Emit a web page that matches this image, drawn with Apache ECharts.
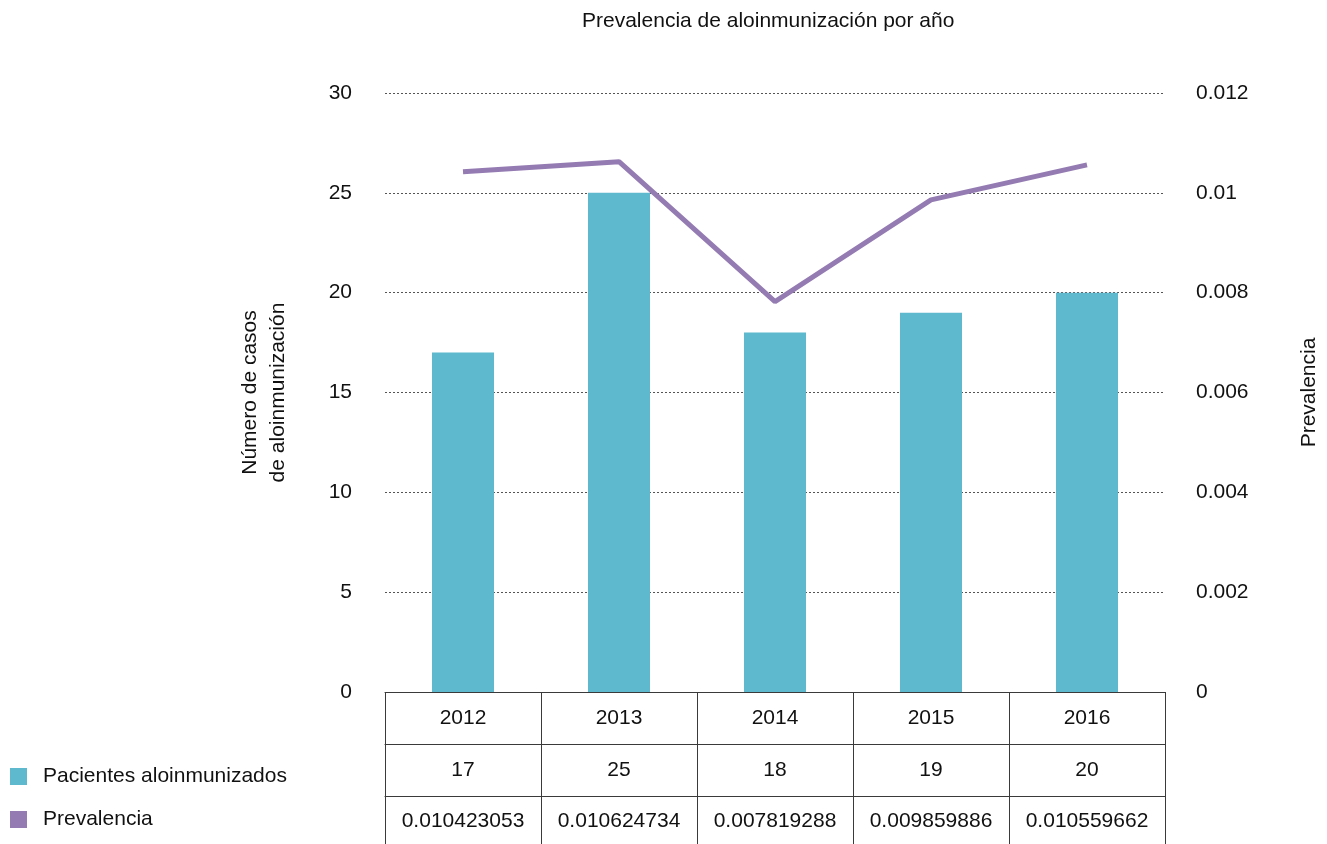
<!DOCTYPE html>
<html>
<head>
<meta charset="utf-8">
<script src="https://cdn.jsdelivr.net/npm/echarts@6/dist/echarts.min.js"></script>
<style>
  html, body { margin: 0; padding: 0; background: #fff; }
  #chart { width: 1327px; height: 844px; }
</style>
</head>
<body>
<div id="chart"></div>
<script>
// Years shown on the category axis and in the data table
const years = ['2012', '2013', '2014', '2015', '2016'];
// Number of alloimmunized patients per year (bars, left axis)
const casos = [17, 25, 18, 19, 20];
// Alloimmunization prevalence per year (line, right axis)
const prevalencia = [0.010423053, 0.010624734, 0.007819288, 0.009859886, 0.010559662];
// Left and right axis scales
const casosTicks = { min: 0, max: 30, interval: 5 };
const prevTicks = { min: 0, max: 0.012, interval: 0.002 };

const FONT = 'Liberation Sans, Arial, sans-serif';
const FS = 21;
const TEXT = '#111';
const BORDER = '#3a3a3a';
const ROW = 52;

// One category x-axis per table row; its line and ticks draw the cell borders
function tableAxis(labels, offset, margin, tickLen) {
  return {
    type: 'category',
    position: 'bottom',
    offset: offset,
    data: labels,
    boundaryGap: true,
    axisLine: { show: true, onZero: false, lineStyle: { color: BORDER, width: 1 } },
    axisTick: { show: true, interval: 0, length: tickLen, lineStyle: { color: BORDER, width: 1 } },
    axisLabel: { interval: 0, margin: margin, color: TEXT, fontSize: FS, fontFamily: FONT, verticalAlign: 'top' },
    splitLine: { show: false }
  };
}

const chart = echarts.init(document.getElementById('chart'));
chart.setOption({
  animation: false,
  backgroundColor: '#fff',
  textStyle: { fontFamily: FONT, color: TEXT },
  title: {
    text: 'Prevalencia de aloinmunización por año',
    left: 577,
    top: 6,
    textStyle: { fontSize: FS, fontWeight: 'normal', color: TEXT, fontFamily: FONT }
  },
  legend: {
    orient: 'vertical',
    left: 10,
    top: 766,
    padding: 0,
    itemWidth: 17,
    itemHeight: 17,
    itemGap: 22,
    icon: 'rect',
    textStyle: { fontSize: FS, color: TEXT, fontFamily: FONT, padding: [0, 0, 0, 11] },
    data: ['Pacientes aloinmunizados', 'Prevalencia']
  },
  grid: { left: 385, right: 162, top: 93, bottom: 152, containLabel: false, outerBoundsMode: 'none' },
  xAxis: [
    tableAxis(years, 0, 16, ROW),
    tableAxis(casos.map(String), ROW, 16, ROW),
    tableAxis(prevalencia.map(String), ROW * 2, 15, ROW)
  ],
  yAxis: [
    {
      type: 'value',
      min: casosTicks.min, max: casosTicks.max, interval: casosTicks.interval,
      name: 'Número de casos\nde aloinmunización',
      nameLocation: 'middle',
      nameRotate: 90,
      nameGap: 93,
      nameTextStyle: { fontSize: FS, color: TEXT, fontFamily: FONT, lineHeight: 28 },
      axisLine: { show: false },
      axisTick: { show: false },
      axisLabel: { margin: 33, color: TEXT, fontSize: FS, fontFamily: FONT },
      splitLine: { show: true, lineStyle: { color: '#555', type: [2, 2], width: 1 } }
    },
    {
      type: 'value',
      position: 'right',
      min: prevTicks.min, max: prevTicks.max, interval: prevTicks.interval,
      name: 'Prevalencia',
      nameLocation: 'middle',
      nameRotate: 90,
      nameGap: 134,
      nameTextStyle: { fontSize: FS, color: TEXT, fontFamily: FONT },
      axisLine: { show: false },
      axisTick: { show: false },
      axisLabel: { margin: 31, color: TEXT, fontSize: FS, fontFamily: FONT },
      splitLine: { show: false }
    }
  ],
  series: [
    {
      name: 'Pacientes aloinmunizados',
      type: 'bar',
      xAxisIndex: 0,
      yAxisIndex: 0,
      barWidth: 62,
      itemStyle: { color: '#5fb9ce' },
      data: casos
    },
    {
      name: 'Prevalencia',
      type: 'line',
      xAxisIndex: 0,
      yAxisIndex: 1,
      symbol: 'none',
      lineStyle: { color: '#947bb2', width: 5 },
      itemStyle: { color: '#947bb2' },
      data: prevalencia
    }
  ]
});
</script>
</body>
</html>
